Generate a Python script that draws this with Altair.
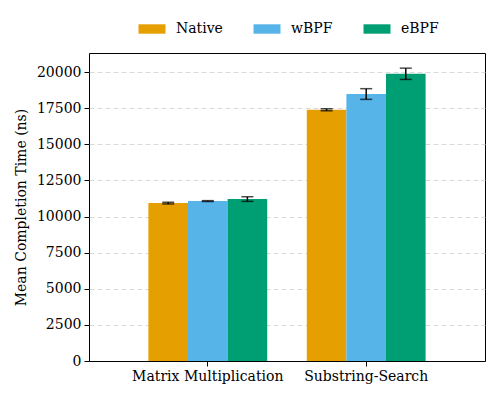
import altair as alt
import pandas as pd

categories = ["Matrix Multiplication", "Substring-Search"]
series = ["Native", "wBPF", "eBPF"]
colors = ["#E69F00", "#56B4E9", "#009E73"]

native_mean = [10930, 17390]
wbpf_mean = [11070, 18480]
ebpf_mean = [11210, 19880]
native_err = [60, 70]
wbpf_err = [30, 370]
ebpf_err = [160, 390]

rows = []
for i, cat in enumerate(categories):
    for name, means, errs in [("Native", native_mean, native_err),
                              ("wBPF", wbpf_mean, wbpf_err),
                              ("eBPF", ebpf_mean, ebpf_err)]:
        rows.append({"category": cat, "series": name,
                     "mean": means[i], "lo": means[i] - errs[i], "hi": means[i] + errs[i]})
df = pd.DataFrame(rows)

FONT = "DejaVu Serif"
FS = 14
Y_TITLE = "Mean Completion Time (ns)"
y_scale = alt.Scale(domain=[0, 21320], nice=False)
y_axis = alt.Axis(values=list(range(0, 20001, 2500)), format="d",
                  labelFontSize=FS, labelColor="black", titleFontSize=FS,
                  titleFontWeight="normal", titleColor="black", titlePadding=8,
                  tickColor="black", tickSize=5, labelPadding=3, domain=False,
                  labelOverlap=False, grid=True, gridWidth=0.8,
                  gridColor={"condition": {"test": "datum.value === 0", "value": "black"},
                             "value": "#d0d0d0"},
                  gridDash={"condition": {"test": "datum.value === 0", "value": []},
                            "value": [5, 3]})

x_enc = alt.X("category:N", sort=categories, title=None,
              scale=alt.Scale(paddingInner=0.25, paddingOuter=0.375),
              axis=alt.Axis(labelAngle=0, labelFontSize=FS, labelColor="black",
                            tickColor="black", tickSize=5, labelPadding=3,
                            domain=False, grid=False))
x_off = alt.XOffset("series:N", sort=series, scale=alt.Scale(paddingInner=0, paddingOuter=0))

bars = alt.Chart(df).mark_bar().encode(
    x=x_enc,
    xOffset=x_off,
    y=alt.Y("mean:Q", title=Y_TITLE, scale=y_scale, axis=y_axis),
    color=alt.Color("series:N", sort=series,
                    scale=alt.Scale(domain=series, range=colors),
                    legend=alt.Legend(title=None, orient="none", direction="horizontal",
                                      legendX=53, legendY=-34, labelFontSize=FS,
                                      labelColor="black", columnPadding=30, labelOffset=14,
                                      symbolType="M-1.35,-0.47H1.35V0.47H-1.35Z",
                                      symbolSize=400, symbolStrokeWidth=0, symbolOpacity=1)),
)

errs = alt.Chart(df).mark_errorbar(ticks=alt.MarkConfig(size=12, color="black", strokeWidth=1.5),
                                   color="black", thickness=1.5).encode(
    x=x_enc,
    xOffset=x_off,
    y=alt.Y("lo:Q", title=Y_TITLE, scale=y_scale, axis=y_axis),
    y2="hi:Q",
)

chart = alt.layer(bars, errs).properties(
    width=396, height=308,
    autosize=alt.AutoSizeParams(type="none"),
    padding={"left": 81, "top": 45, "right": 7, "bottom": 31},
).configure(font=FONT).configure_view(stroke="black", strokeWidth=1)

chart.save("out.html", embed_options={"renderer": "svg", "actions": False})
